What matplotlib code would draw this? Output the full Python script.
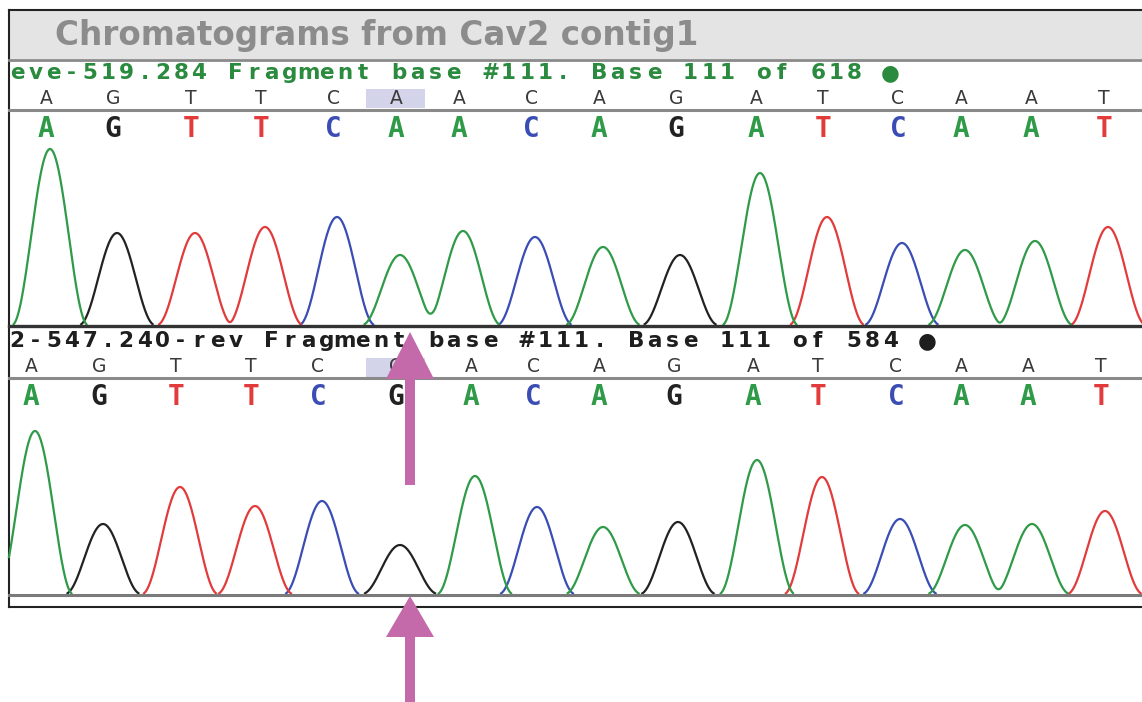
import numpy as np
import matplotlib
matplotlib.use('Agg')
import matplotlib.pyplot as plt
from matplotlib.patches import Rectangle, FancyArrow

# read 1 (top) : peak scan positions, peak heights, called bases
top_pos = [50, 117, 195, 265, 337, 400, 463, 535, 603, 680, 760, 827, 902, 965, 1035, 1108]
top_h = [176, 92, 92, 98, 108, 70, 94, 88, 78, 70, 152, 108, 82, 75, 84, 98]
top_bases = 'AGTTCAACAGATCAAT'
top_cons = 'AGTTCAACAGATCAAT'
top_title = 'eve-519.284 Fragment base #111. Base 111 of 618 \u25CF'

# read 2 (bottom)
bot_pos = [35, 103, 180, 255, 322, 400, 475, 537, 603, 678, 757, 822, 900, 965, 1032, 1105]
bot_h = [163, 70, 107, 88, 93, 49, 118, 87, 67, 72, 134, 117, 75, 69, 70, 83]
bot_bases = 'AGTTCGACAGATCAAT'
bot_cons = 'AGTTCGACAGATCAAT'
bot_title = '2-547.240-rev Fragment base #111. Base 111 of 584 \u25CF'

colors = {'A': '#2f9a48', 'C': '#3a4db4', 'G': '#222222', 'T': '#e23b3b'}
half_w = 38

fig = plt.figure(figsize=(11.42, 7.02), dpi=100)
ax = fig.add_axes([0, 0, 1, 1])
ax.set_xlim(0, 1142)
ax.set_ylim(702, 0)
ax.axis('off')

# frame and title bar
ax.add_patch(Rectangle((9, 11), 1140, 48, facecolor='#e4e4e4', edgecolor='none', zorder=0))
ax.plot([9, 1142], [10, 10], color='#222222', lw=1.5)
ax.plot([9, 9], [10, 607], color='#222222', lw=1.5)
ax.plot([9, 1142], [607, 607], color='#222222', lw=1.5)
ax.text(55, 35, 'Chromatograms from Cav2 contig1', fontsize=23.5, fontweight='bold',
        color='#8c8c8c', va='center', ha='left')
ax.plot([9, 1142], [60, 60], color='#8a8a8a', lw=2)


def header(txt, y, color):
    pitch = 18.2
    for i, ch in enumerate(txt):
        ax.text(17 + i * pitch, y, ch, fontsize=15.5, fontweight='bold', color=color,
                ha='center', va='center', family='DejaVu Sans')


def trace(pos, h, bases, base_y):
    x = np.linspace(9, 1142, 2400)
    for b in 'GCTA':
        sig = np.zeros_like(x)
        for p, hh, bb in zip(pos, h, bases):
            if bb == b:
                d = np.clip(np.abs(x - p) / half_w, 0, 1)
                sig += hh * (1 + np.cos(np.pi * d)) / 2
        sig[sig < 0.6] = np.nan
        ax.plot(x, base_y - sig, color=colors[b], lw=1.6, zorder=2)


def letters(pos, cons, bases, y_cons, y_base):
    ax.add_patch(Rectangle((366, y_cons - 9.5), 59, 19, facecolor='#d3d3ea',
                           edgecolor='none', zorder=0))
    for p, c, b in zip(pos, cons, bases):
        ax.text(p - 4, y_cons, c, fontsize=13.5, color='#3a3a3a', ha='center', va='center')
        ax.text(p - 4, y_base, b, fontsize=20, fontweight='bold', color=colors[b],
                ha='center', va='center', family='DejaVu Sans Mono')


# top read
header(top_title, 73, '#2a8a3e')
letters(top_pos, top_cons, top_bases, 98, 129)
ax.plot([9, 1142], [110, 110], color='#8a8a8a', lw=2.2)
trace(top_pos, top_h, top_bases, 325)
ax.plot([9, 1142], [326, 326], color='#333333', lw=2.4, zorder=3)

# bottom read
header(bot_title, 341, '#1e1e1e')
letters(bot_pos, bot_cons, bot_bases, 367, 397)
ax.plot([9, 1142], [378, 378], color='#8a8a8a', lw=2.2)
trace(bot_pos, bot_h, bot_bases, 594)
ax.plot([9, 1142], [594.5, 594.5], color='#7a7a7a', lw=2.2, zorder=3)

# arrows
arr_col = '#c46aab'
ax.add_patch(FancyArrow(410, 485, 0, -153, width=10, head_width=48, head_length=47,
                        length_includes_head=True, color=arr_col, lw=0, zorder=5))
ax.add_patch(FancyArrow(410, 710, 0, -114, width=10, head_width=48, head_length=41,
                        length_includes_head=True, color=arr_col, lw=0, zorder=5))

fig.savefig('out.png', dpi=100)
